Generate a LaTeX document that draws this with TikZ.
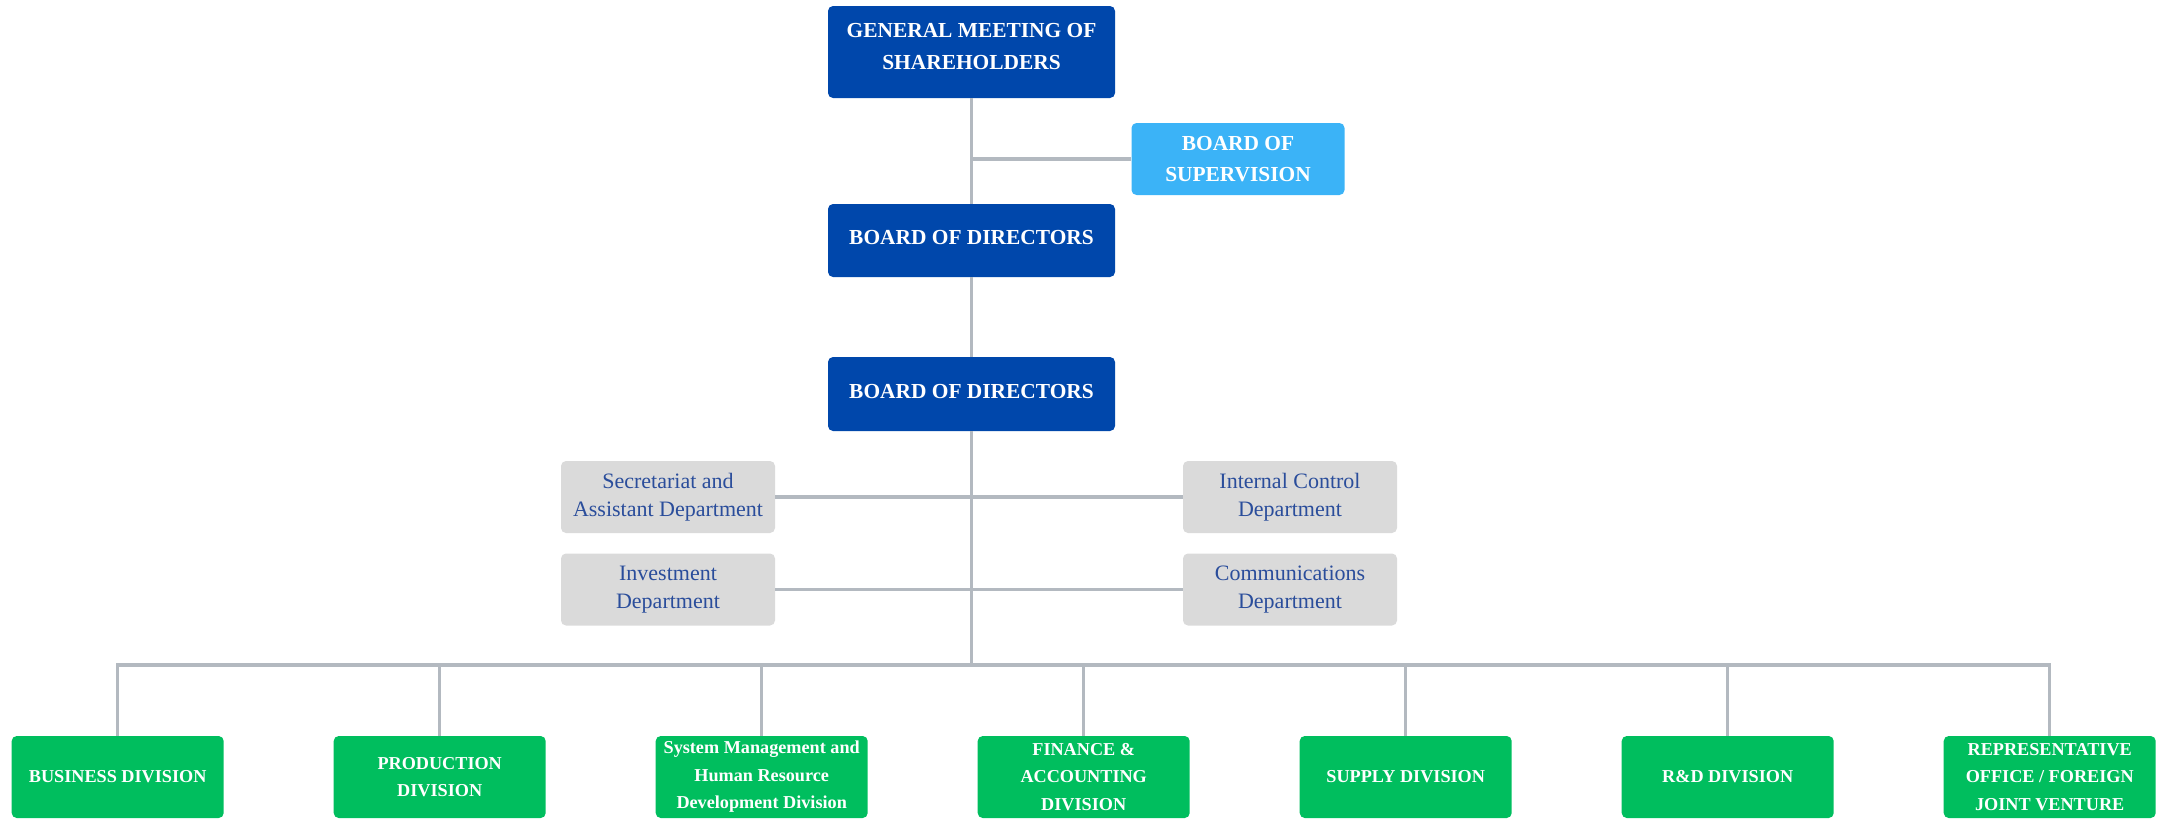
\documentclass[tikz,border=0pt]{standalone}
\usepackage{fontspec}
\setmainfont{Liberation Serif}
\definecolor{boardblue}{HTML}{0047AB}
\definecolor{supblue}{HTML}{3BB3F7}
\definecolor{deptgray}{HTML}{DADADA}
\definecolor{depttext}{HTML}{2A4D9B}
\definecolor{divgreen}{HTML}{00BE5E}
\definecolor{linkgray}{HTML}{B3B9C0}

\begin{document}
\begin{tikzpicture}[
    x=0.5pt, y=0.5pt,
    box/.style={rounded corners=2.5pt, inner sep=0pt, align=center},
    board/.style={box, fill=boardblue, text=white, minimum width=143.5pt,
        text depth=2.75pt, font=\bfseries\fontsize{10.7}{15.8}\selectfont},
    supervision/.style={box, fill=supblue, text=white, minimum width=106.5pt,
        minimum height=36pt, font=\bfseries\fontsize{10.7}{15.8}\selectfont},
    dept/.style={box, fill=deptgray, text=depttext, minimum width=107pt,
        minimum height=36pt, font=\fontsize{11}{13.8}\selectfont},
    division/.style={box, fill=divgreen, text=white, minimum width=106pt,
        minimum height=41pt, font=\bfseries\fontsize{9.1}{13.8}\selectfont},
    link/.style={draw=linkgray, line width=1.75pt}
]
    \useasboundingbox (0,0) rectangle (2161,-819);

    \node[board, minimum height=46pt, text depth=5.5pt] (gms) at (971.5,-52) {GENERAL MEETING OF\\SHAREHOLDERS};
    \node[supervision] (bos) at (1238,-159) {BOARD OF\\SUPERVISION};
    \node[board, minimum height=36.5pt] (bod1) at (971.5,-240.5) {BOARD OF DIRECTORS};
    \node[board, minimum height=37pt] (bod2) at (971.5,-394) {BOARD OF DIRECTORS};

    \node[dept] (sec) at (668,-497) {Secretariat and\\Assistant Department};
    \node[dept] (ic) at (1290,-497) {Internal Control\\Department};
    \node[dept] (inv) at (668,-589.5) {Investment\\Department};
    \node[dept] (com) at (1290,-589.5) {Communications\\Department};

    \node[division] (business) at (117.7,-777) {BUSINESS DIVISION};
    \node[division] (production) at (439.7,-777) {PRODUCTION\\DIVISION};
    \node[division] (system) at (761.7,-777) {System Management and\\Human Resource\\Development Division};
    \node[division] (finance) at (1083.7,-777) {FINANCE \&\\ACCOUNTING\\DIVISION};
    \node[division] (supply) at (1405.7,-777) {SUPPLY DIVISION};
    \node[division] (rnd) at (1727.7,-777) {R\&D DIVISION};
    \node[division] (rep) at (2049.7,-777) {REPRESENTATIVE\\OFFICE / FOREIGN\\JOINT VENTURE};

    % Connect the boards and departments to the trunk
    \coordinate (bus) at (971.5,-665);
    \draw[link] (gms) -- (bod1);
    \draw[link] (bos) -- (bos -| gms);
    \draw[link] (bod1) -- (bod2);
    \draw[link] (bod2) -- (bus);
    \draw[link] (sec) -- (ic);
    \draw[link] (inv) -- (com);

    % Drop lines to the divisions
    \draw[link] (business) |- (bus) -| (rep);
    \draw[link] (production) -- (production |- bus);
    \draw[link] (system) -- (system |- bus);
    \draw[link] (finance) -- (finance |- bus);
    \draw[link] (supply) -- (supply |- bus);
    \draw[link] (rnd) -- (rnd |- bus);
\end{tikzpicture}
\end{document}
